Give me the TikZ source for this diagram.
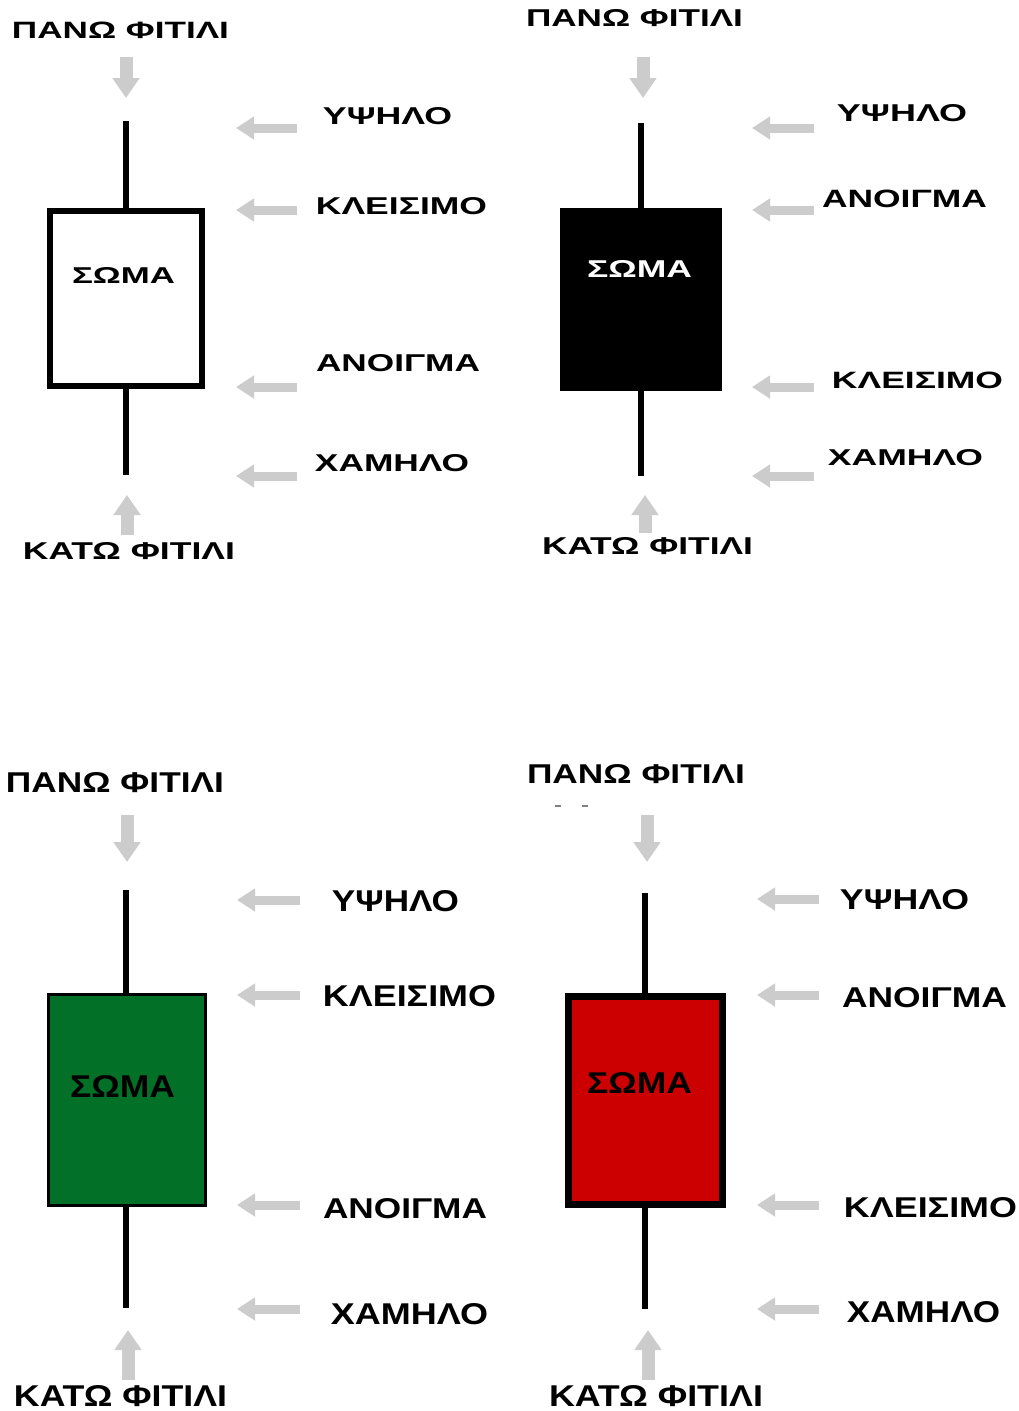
\documentclass[tikz,border=0pt]{standalone}
\usepackage{fontspec}
\setmainfont{Liberation Sans}
\usetikzlibrary{arrows.meta}
\definecolor{arrowgray}{RGB}{204,204,204}
\definecolor{candlegreen}{RGB}{2,112,38}
\definecolor{candlered}{RGB}{204,0,0}
\newcommand{\fittext}[3]{\resizebox{#1pt}{#2pt}{\bfseries #3}}
\begin{document}
\begin{tikzpicture}[x=1pt,y=-1pt,
  lbl/.style={inner sep=0pt, outer sep=0pt, anchor=center},
  wick/.style={line width=6.5pt, black},
  hpointer/.style={draw=arrowgray, line width=9pt, -{Triangle[width=22pt,length=18pt]}, arrowgray},
  vpointer/.style={draw=arrowgray, line width=13pt, -{Triangle[width=26pt,length=20pt]}, arrowgray},
  bodybox/.style={rectangle, inner sep=0pt, outer sep=0pt}
]
\useasboundingbox (0,0) rectangle (1019,1411);
\fill[white] (0,0) rectangle (1019,1411);

% ================= Top-left (white candle) =================
\node[bodybox, draw=black, fill=white, line width=6pt, minimum width=152pt, minimum height=175pt] (b1) at (126,298.5) {};
\coordinate (t1) at (126,121);
\coordinate (l1) at (126,475);
\draw[wick] (b1.north) -- (t1);
\draw[wick] (b1.south) -- (l1);
\node[lbl] (s1) at (123.5,275) {\fittext{103}{16}{ΣΩΜΑ}};
\node[lbl] (pw1) at (120.5,30) {\fittext{217}{16.5}{ΠΑΝΩ ΦΙΤΙΛΙ}};
\node[lbl] (kw1) at (129,551.5) {\fittext{212}{17}{ΚΑΤΩ ΦΙΤΙΛΙ}};
\node[lbl] (h1) at (387.5,116.5) {\fittext{129}{17}{ΥΨΗΛΟ}};
\node[lbl] (c1) at (401.5,206.5) {\fittext{171}{17}{ΚΛΕΙΣΙΜΟ}};
\node[lbl] (o1) at (398,363.5) {\fittext{164}{17}{ΑΝΟΙΓΜΑ}};
\node[lbl] (lo1) at (392,463.5) {\fittext{154}{17}{ΧΑΜΗΛΟ}};
\draw[hpointer] (297,128) -- (236,128);
\draw[hpointer] (297,210) -- (236,210);
\draw[hpointer] (297,387) -- (236,387);
\draw[hpointer] (297,476) -- (236,476);
\draw[vpointer] (126,57) -- (126,98);
\draw[vpointer] (127,535) -- (127,495);

% ================= Top-right (black candle) =================
\node[bodybox, fill=black, minimum width=162pt, minimum height=183pt] (b2) at (641,299.5) {};
\coordinate (t2) at (641,123);
\coordinate (l2) at (641,476);
\draw[wick] (b2.north) -- (t2);
\draw[wick] (b2.south) -- (l2);
\node[lbl, text=white] (s2) at (639.5,268.5) {\fittext{105}{17}{ΣΩΜΑ}};
\node[lbl] (pw2) at (634.5,18.5) {\fittext{217}{17}{ΠΑΝΩ ΦΙΤΙΛΙ}};
\node[lbl] (kw2) at (647.5,546.5) {\fittext{211}{17}{ΚΑΤΩ ΦΙΤΙΛΙ}};
\node[lbl] (h2) at (902,113.5) {\fittext{130}{17}{ΥΨΗΛΟ}};
\node[lbl] (o2) at (904.5,199) {\fittext{165}{17.5}{ΑΝΟΙΓΜΑ}};
\node[lbl] (c2) at (917.5,380) {\fittext{171}{16.5}{ΚΛΕΙΣΙΜΟ}};
\node[lbl] (lo2) at (905.5,458) {\fittext{155}{16}{ΧΑΜΗΛΟ}};
\draw[hpointer] (814,128) -- (752,128);
\draw[hpointer] (814,210) -- (752,210);
\draw[hpointer] (814,387) -- (752,387);
\draw[hpointer] (814,476) -- (752,476);
\draw[vpointer] (643,57) -- (643,98);
\draw[vpointer] (645,533) -- (645,495);

% ================= Bottom-left (green candle) =================
\node[bodybox, draw=black, fill=candlegreen, line width=3pt, minimum width=157pt, minimum height=211pt] (b3) at (127,1100) {};
\coordinate (t3) at (126,890);
\coordinate (l3) at (126,1308);
\draw[wick] (126,994) -- (t3);
\draw[wick] (126,1206) -- (l3);
\node[lbl] (s3) at (122.5,1086) {\fittext{105}{22}{ΣΩΜΑ}};
\node[lbl] (pw3) at (115,783) {\fittext{218}{20}{ΠΑΝΩ ΦΙΤΙΛΙ}};
\node[lbl] (kw3) at (120.5,1396) {\fittext{213}{21}{ΚΑΤΩ ΦΙΤΙΛΙ}};
\node[lbl] (h3) at (395.5,901.5) {\fittext{127}{21}{ΥΨΗΛΟ}};
\node[lbl] (c3) at (409.5,996.5) {\fittext{173}{21}{ΚΛΕΙΣΙΜΟ}};
\node[lbl] (o3) at (405,1209) {\fittext{164}{20}{ΑΝΟΙΓΜΑ}};
\node[lbl] (lo3) at (409.5,1314.5) {\fittext{157}{21}{ΧΑΜΗΛΟ}};
\draw[hpointer] (300,900) -- (237,900);
\draw[hpointer] (300,995) -- (237,995);
\draw[hpointer] (300,1205) -- (237,1205);
\draw[hpointer] (300,1309) -- (237,1309);
\draw[vpointer] (127,815) -- (127,862);
\draw[vpointer] (128,1380) -- (128,1330);

% ================= Bottom-right (red candle) =================
\node[bodybox, draw=black, fill=candlered, line width=7pt, minimum width=154pt, minimum height=208pt] (b4) at (645.5,1100.5) {};
\coordinate (t4) at (645,893);
\coordinate (l4) at (645,1309);
\draw[wick] (645,997) -- (t4);
\draw[wick] (645,1204) -- (l4);
\node[lbl] (s4) at (639.5,1082.5) {\fittext{105}{21}{ΣΩΜΑ}};
\node[lbl] (pw4) at (636,774.5) {\fittext{218}{19}{ΠΑΝΩ ΦΙΤΙΛΙ}};
\node[lbl] (kw4) at (656,1396) {\fittext{214}{21}{ΚΑΤΩ ΦΙΤΙΛΙ}};
\node[lbl] (h4) at (904.5,900) {\fittext{129}{20}{ΥΨΗΛΟ}};
\node[lbl] (o4) at (924.5,998) {\fittext{165}{20}{ΑΝΟΙΓΜΑ}};
\node[lbl] (c4) at (930.5,1208) {\fittext{173}{20}{ΚΛΕΙΣΙΜΟ}};
\node[lbl] (lo4) at (923.5,1312.5) {\fittext{153}{21}{ΧΑΜΗΛΟ}};
\draw[hpointer] (819,899) -- (757,899);
\draw[hpointer] (819,995) -- (757,995);
\draw[hpointer] (819,1205) -- (757,1205);
\draw[hpointer] (819,1309) -- (757,1309);
\draw[vpointer] (647,815) -- (647,862);
\draw[vpointer] (648,1380) -- (648,1330);
\draw[gray, line width=2pt] (555,806) -- (561,806);
\draw[gray, line width=2pt] (582,806) -- (588,806);
\end{tikzpicture}
\end{document}
